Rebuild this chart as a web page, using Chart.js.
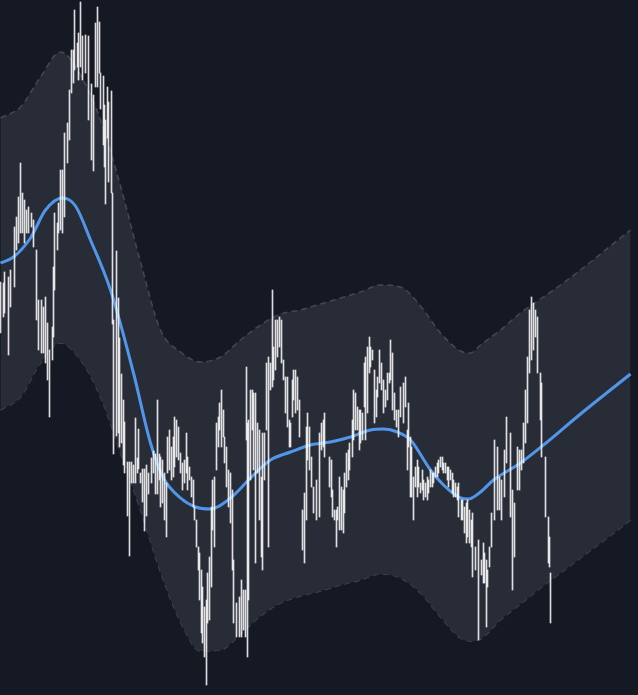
<!DOCTYPE html>
<html>
<head>
<meta charset="utf-8">
<title>GP fit</title>
<script src="https://cdn.jsdelivr.net/npm/chart.js@4"></script>
<style>
  html, body { margin: 0; padding: 0; background: #151923; }
  #wrap { width: 638px; height: 695px; position: relative; }
</style>
</head>
<body>
<div id="wrap"><canvas id="myCanvas"></canvas></div>
<script>
'use strict';

// observed samples: time step, high and low of each sample
let obsT = [0, 1.5, 2, 4, 5, 7, 8, 9, 10, 11, 12, 13, 14, 15.5, 16.5, 18, 19, 20.5, 21.5, 22.5, 23.5, 24.5, 26, 26.5, 27, 28.5, 29, 30, 31, 32, 33.5, 34.5, 35.5, 36.5, 37, 38.5, 39, 40, 41, 42.5, 44, 45.5, 46.5, 47.5, 48.5, 49.5, 50, 51.5, 52, 52.5, 53.5, 54, 55.5, 56, 56.5, 58, 59, 59.5, 60.5, 61.5, 62, 63.5, 64.5, 65.5, 66.5, 67.5, 68.5, 69, 70, 71, 72, 73, 74, 75.5, 76.5, 77.5, 78.5, 79.5,
  80, 81, 82, 83, 83.5, 84.5, 85.5, 86.5, 87, 88, 89, 90, 91, 92, 93, 93.5, 94.5, 95.5, 96.5, 97, 98, 99, 99.5, 100.5, 101, 102, 103, 103.5, 104.5, 105.5, 106, 107, 108, 109, 109.5, 110.5, 111.5, 112, 113, 114, 115, 116, 116.5, 118, 119.5,
  120.5, 121.5, 122.5, 123, 123.5, 124, 125, 126, 126.5, 127.5, 128.5, 129.5, 130.5, 131, 132, 133, 134, 135, 136, 136.5, 137.5, 138.5, 139.5, 140.5, 141.5, 142.5, 143.5, 144.5, 145, 146, 146.5, 147.5, 148.5, 149.5, 151, 152, 153, 153.5, 154.5, 155.5, 156.5, 158, 159.5,
  160.5, 161.5, 162, 164.5, 165.5, 166, 167, 168, 168.5, 169.5, 170.5, 171.5, 172, 173, 174, 174.5, 176, 176.5, 177.5, 178.5, 179.5, 180, 181, 182, 182.5, 183.5, 184.5, 185, 186, 187, 188, 188.5, 189.5, 190.5, 191.5, 192.5, 193.5, 194.5, 195, 196, 197, 198, 199, 200, 201.5, 202.5, 203.5, 204,
  205, 205.5, 206.5, 207.5, 208.5, 209, 210, 211, 211.5, 212.5, 213.5, 214, 215, 216, 216.5, 217.5, 218.5, 219, 220, 221, 221.5, 222.5, 223.5, 224, 225, 226, 226.5, 227.5, 228.5, 229, 230.5, 231, 232, 233, 233.5, 234.5, 235.5, 236, 237.5, 239,
  240.5, 241.5, 242, 243, 243.5, 244.5, 245.5, 247, 248.5, 249.5, 250.5, 252, 253, 255, 256, 257, 258.5, 259.5, 260.5, 261.5, 262.5, 263.5, 264.5, 265.5, 266.5, 267.5, 268.5, 270, 270.5, 272.5, 274, 274.5, 275];

let obsHigh = [218, 217, 228, 223, 230, 273, 283, 303, 337, 307, 300, 290, 293, 287, 280, 250, 200, 200, 193, 203, 177, 150, 173, 233, 287, 277, 297, 330, 330, 367, 377, 410, 450, 450, 490, 457, 467, 498, 464, 465, 464, 416, 405, 477, 493, 478, 427, 424, 395, 380, 413, 398, 409, 307, 180, 249, 202, 162, 126, 100, 78, 38, 38, 38, 35, 82, 42, 71, 27, 31, 31, 35, 27, 42, 49, 46, 100, 46,
  43, 40, 27, 17, 63, 70, 53, 63, 83, 80, 73, 47, 37, 40, 67, 43, 33, 23, 20, -7, -20, -47, -53, -70, -87, -107, -100, -73, -57, -7, 20, 23, 77, 83, 97, 110, 90, 63, 53, 30, 27, 10, -60, -103, -97,
  -80, -90, -90, 133, 77, 80, 110, 110, 107, 107, 77, 70, 23, 67, 67, 137, 143, 137, 210, 153, 180, 180, 183, 180, 140, 123, 123, 80, 77, 120, 130, 130, 123, 100, -10, 7, 73, 87, 73, 43, 13, 20, 67,
  77, 80, 87, 43, 40, 10, -10, -10, -7, 23, 13, 10, 27, 47, 50, 57, 80, 110, 107, 93, 90, 90, 87, 137, 143, 153, 163, 153, 150, 130, 110, 123, 150, 137, 120, 110, 127, 127, 160, 147, 107, 90, 90, 113, 117, 123, 70, 97,
  63, 53, 23, 33, 40, 33, 17, 30, 20, 17, 23, 20, 30, 27, 27, 33, 37, 40, 43, 43, 37, 37, 33, 33, 30, 27, 20, 17, 13, 17, 0, 0, -7, -3, 0, -10, -20, -13, -47, -40,
  -60, -43, -53, -60, -70, -47, -13, 60, 53, 23, 20, 50, 83, 67, 10, -3, 53, 50, 50, 77, 110, 143, 190, 203, 197, 190, 183, 127, 117, 43, -17, -37, -73];

let obsLow = [167, 183, 187, 145, 193, 213, 250, 257, 267, 267, 257, 267, 267, 273, 253, 180, 150, 147, 147, 137, 120, 83, 140, 163, 210, 250, 267, 270, 267, 283, 337, 360, 407, 417, 430, 433, 420, 433, 420, 427, 380, 340, 329, 413, 413, 427, 391, 355, 333, 296, 362, 318, 307, 176, 46, 64, 67, 53, 57, 35, 27, -16, -56, 17, 17, 17, 27, 31, 17, -2, -31, -16, 6, 17, 27, 6, 6, 20,
  -7, -3, -20, -37, 27, 30, 20, 23, 33, 43, 40, 27, 10, 17, 27, 10, 20, 3, -7, -20, -47, -70, -100, -133, -143, -157, -185, -123, -120, -87, -30, -47, 30, 53, 70, 53, 63, 37, 13, -7, -23, -70, -123, -137, -137,
  -137, -130, -137, 60, -157, -100, 20, 70, 30, -63, 27, -20, -57, -70, 20, 70, -47, 110, 113, 120, 130, 143, 153, 137, 120, 87, 73, 53, 53, 83, 100, 87, 90, 63, -50, -63, -20, 40, 30, 13, -13, -20, -17,
  50, 53, 43, 13, 3, -17, -20, -47, -20, -30, -30, -33, -13, 13, 20, 30, 43, 60, 70, 70, 50, 57, 60, 93, 60, 87, 127, 133, 140, 77, 83, 103, 117, 110, 87, 93, 100, 117, 120, 90, 80, 73, 63, 83, 77, 93, 30, 53,
  3, 3, -20, 13, 3, 13, 7, 10, 0, 3, 0, 7, 13, 13, 17, 23, 23, 27, 33, 30, 27, 27, 20, 13, 20, 7, 3, 3, 0, -17, -20, -20, -33, -43, -37, -43, -47, -77, -70, -140,
  -75, -83, -83, -127, -87, -67, -47, -20, -10, -10, -20, 3, 37, -17, -90, -57, 10, 10, 30, 37, 57, 77, 127, 140, 150, 163, 127, 80, 43, -17, -63, -67, -123];

// fitted mean
let meanT = [0, 6.5, 15, 22.5, 31, 37.5, 45, 55, 66.5, 75, 81.5, 90, 97.5, 105, 115, 125, 135, 145, 155, 165, 175, 185, 191.5, 198.5, 205, 215, 221.5, 230, 234, 240, 246.5, 260, 271.5, 290, 315];
let meanY = [237, 243, 262, 290, 302, 294, 260, 210, 127, 57, 22, 2, -7, -9, 2, 22, 40, 48, 55, 58, 63, 70, 71, 68, 60, 30, 15, 2, 1, 8, 20, 37, 55, 86, 126];

// confidence band
let bandT = [0, 10, 20, 30, 40, 50, 60, 70, 80, 90, 100, 110, 120, 130, 140, 150, 160, 170, 180, 190, 200, 210, 220, 230, 235, 240, 250, 260, 270, 280, 290, 300, 310, 315];
let bandUpper = [382, 393, 423, 448, 425, 380, 314, 238, 170, 148, 138, 143, 160, 175, 186, 190, 196, 202, 208, 215, 213, 194, 167, 149, 147, 155, 170, 187, 201, 215, 230, 246, 262, 270];
let bandLower = [90, 103, 137, 157, 140, 103, 47, -10, -72, -122, -151, -150, -134, -116, -103, -96, -91, -85, -80, -74, -78, -93, -117, -138, -141, -139, -120, -104, -88, -73, -58, -43, -28, -20];

function toPoints(xs, ys) {
  let pts = [];
  for (let i = 0; i < xs.length; i++) {
    pts.push({ x: xs[i], y: ys[i] });
  }
  return pts;
}

let samples = [];
for (let i = 0; i < obsT.length; i++) {
  samples.push({ x: obsT[i], y: [obsLow[i], obsHigh[i]] });
}

const ctx = document.getElementById('myCanvas').getContext('2d');
let myChart = new Chart(ctx, {
  type: 'bar',
  data: {
    datasets: [
      {
        // the samples, thin vertical strokes
        type: 'bar',
        data: samples,
        backgroundColor: 'rgba(255, 255, 255, 0.85)',
        borderWidth: 0,
        barThickness: 1,
      },
      {
        type: 'line',
        data: toPoints(meanT, meanY),
        borderColor: '#5096ea',
        borderWidth: 3,
        pointRadius: 0,
        cubicInterpolationMode: 'monotone',
        fill: false,
      },
      {
        type: 'line',
        data: toPoints(bandT, bandUpper),
        borderColor: '#434856',
        borderWidth: 1.5,
        borderDash: [6, 4],
        pointRadius: 0,
        cubicInterpolationMode: 'monotone',
        backgroundColor: '#282c37',
        fill: '+1',
      },
      {
        type: 'line',
        data: toPoints(bandT, bandLower),
        borderColor: '#434856',
        borderWidth: 1.5,
        borderDash: [6, 4],
        pointRadius: 0,
        cubicInterpolationMode: 'monotone',
        fill: false,
      },
    ],
  },
  options: {
    responsive: true,
    maintainAspectRatio: false,
    devicePixelRatio: 1,
    animation: false,
    layout: { padding: 0 },
    plugins: {
      legend: { display: false },
      tooltip: { enabled: false },
    },
    scales: {
      // quarter step offset keeps the 1px strokes on whole pixels
      x: { type: 'linear', min: -0.25, max: 318.75, display: false, offset: false, grid: { display: false } },
      y: { type: 'linear', min: -195, max: 500, display: false, grid: { display: false } },
    },
  },
});
</script>
</body>
</html>
